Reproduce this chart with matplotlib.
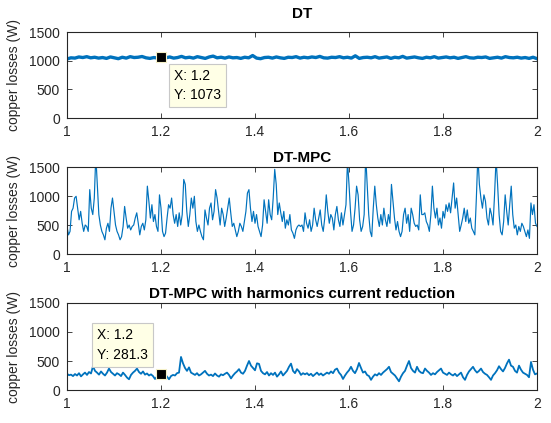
import numpy as np
import matplotlib
matplotlib.use("Agg")
import matplotlib.pyplot as plt

# ---- data (copper losses in W, time axis 1..2) ----
dt_losses = [
    1030, 1050, 1045, 1065, 1055, 1070, 1050, 1060, 1045, 1055,
    1040, 1065, 1050, 1035, 1060, 1045, 1070, 1055, 1060, 1073,
    1050, 1040, 1055, 1045, 1060, 1050, 1065, 1045, 1055, 1075,
    1050, 1060, 1045, 1070, 1055, 1040, 1065, 1080, 1050, 1060,
    1045, 1065, 1050, 1055, 1040, 1060, 1050, 1090, 1045, 1035,
    1055, 1060, 1045, 1065, 1050, 1040, 1060, 1055, 1070, 1045,
    1060, 1050, 1065, 1055, 1075, 1050, 1045, 1060, 1055, 1070,
    1050, 1060, 1045, 1085, 1040, 1055, 1060, 1050, 1070, 1045,
    1055, 1065, 1040, 1060, 1050, 1075, 1045, 1055, 1065, 1050,
    1040, 1060, 1050, 1070, 1045, 1055, 1065, 1050, 1060, 1040,
    1055, 1070, 1050, 1045, 1060, 1055, 1065, 1040, 1050, 1060,
    1045, 1070, 1055, 1050, 1060, 1045, 1055, 1040, 1060, 1035,
]

mpc_losses = [
    475, 330, 390, 735, 790, 965, 995, 790, 590, 735,
    530, 390, 500, 475, 390, 1110, 790, 680, 965, 1700,
    1200, 680, 500, 390, 330, 245, 445, 530, 390, 790,
    965, 735, 500, 390, 330, 245, 300, 475, 820, 620,
    445, 500, 415, 475, 500, 620, 710, 530, 330, 475,
    530, 415, 590, 1170, 910, 620, 850, 560, 680, 475,
    390, 1020, 790, 390, 300, 360, 620, 850, 790, 965,
    680, 530, 680, 475, 710, 500,
    680, 1285, 1200, 735, 475, 680, 965, 790, 995, 560,
    390, 500, 390, 300, 245, 760, 620, 500, 790, 880,
    590, 735, 1110, 965, 735, 500, 790, 680, 475, 620,
    790, 965, 710, 475, 530, 415, 300, 390, 530, 475,
    390, 560, 735, 1050, 1110, 790, 560, 735, 530, 680,
    475, 390, 300, 500, 935, 735, 530, 935, 680, 590,
    965, 1460, 1200, 680, 880, 710, 560, 735, 445, 590,
    500, 680, 415, 360, 270, 415, 475, 500, 475,
    500, 390, 710, 530, 445, 590, 390, 500, 790, 590,
    475, 620, 760, 500, 390, 620, 1020, 735, 530, 680,
    620, 415, 680, 820, 590, 475, 710, 500, 680, 850,
    1600, 1200, 735, 390, 500, 790, 1170, 1020, 590, 390,
    475, 680, 1700, 1200, 680, 390, 300, 790, 1170, 850,
    620, 475, 680, 500, 790, 590, 475, 680, 530, 1200,
    910, 620, 415, 560, 390, 300, 390, 680, 790, 530,
    680, 390, 790, 680, 530, 475, 500, 415, 1020, 680,
    680, 710, 560, 500, 390, 680, 1170, 790, 620, 790,
    500, 620, 445, 735, 620, 850, 735, 880, 710, 965,
    1225, 790, 965, 680, 390, 500, 620, 790, 560, 760,
    530, 620, 445, 390, 330, 965, 1700, 1200, 965, 790,
    1020, 910, 620, 500, 790, 680, 500, 1020, 1650, 1200,
    680, 390, 330, 560, 1020, 735, 500, 850, 1170, 680,
    445, 500, 330, 475, 390, 530, 475, 390, 300, 415,
    270, 880, 680, 850, 530, 475,
]

hcr_losses = [
    280, 255, 265, 240, 275, 250, 290, 235, 270, 300,
    260, 310, 285, 410, 330, 300, 265, 320, 280, 250,
    300, 370, 310, 280, 250, 290, 270, 240, 300, 260,
    215, 185, 260, 300, 330, 370, 310, 280, 320, 265,
    285, 250, 270, 240, 190, 230, 260, 281, 250, 270,
    230, 185, 240, 260, 250, 290, 300, 570, 460, 380,
    330, 390, 300, 280, 260, 290, 250, 270, 300, 330,
    280, 250, 265, 240, 285, 250, 230, 270, 255, 280,
    300, 260, 200, 250, 290, 320, 360, 300, 280, 330,
    420, 500, 420, 380, 340, 460, 450, 330, 290, 270,
    310, 250, 290, 260, 300, 230, 270, 320, 250, 290,
    330, 400, 455, 330, 290, 360, 320, 260, 290, 270,
    290, 255, 280, 240, 270, 300, 260, 285, 250, 275,
    300, 280, 320, 290, 350, 370, 300, 260, 190, 250,
    300, 340, 400, 330, 290, 360, 466, 380, 300, 320,
    260, 240, 175, 230, 270, 250, 290, 260, 300, 330,
    360, 400, 310, 280, 250, 200, 150, 230, 290, 330,
    420, 500, 380, 330, 300, 400, 330, 300, 290, 370,
    330, 300, 260, 290, 270, 310, 340, 370, 300, 280,
    260, 300, 270, 250, 280, 240, 270, 300, 220, 175,
    260, 320, 360, 400, 340, 300, 330, 370, 310, 280,
    260, 220, 175, 250, 290, 340, 410, 360, 320, 380,
    460, 523, 420, 400, 330, 300, 420, 350, 300, 280,
    260, 220, 483, 350, 270, 285,
]

titles = ["DT", "DT-MPC", "DT-MPC with harmonics current reduction"]
series = [dt_losses, mpc_losses, hcr_losses]
tips = [(1.2, 1073), None, (1.2, 281.3)]
x_ticks = [1, 1.2, 1.4, 1.6, 1.8, 2]
x_labels = ["1", "1.2", "1.4", "1.6", "1.8", "2"]
y_ticks = [0, 500, 1000, 1500]

LINE = "#0072BD"
DARK = "#262626"

plt.rcParams["font.family"] = ["Liberation Sans", "DejaVu Sans"]
plt.rcParams["font.size"] = 10

fig = plt.figure(figsize=(5.51, 4.23), dpi=100)

# axes boxes in figure fractions (left, bottom, width, height)
boxes = [
    (0.1216, 0.7210, 0.8530, 0.2033),
    (0.1216, 0.3995, 0.8530, 0.2057),
    (0.1216, 0.0780, 0.8530, 0.2057),
]
title_pads = [10, 3.5, 3.5]
line_widths = [2.4, 0.85, 1.3]

for i in range(3):
    ax = fig.add_axes(boxes[i])
    y = np.array(series[i], dtype=float)
    x = np.linspace(1, 2, len(y))
    ax.plot(x, y, color=LINE, lw=line_widths[i])
    ax.set_xlim(1, 2)
    ax.set_ylim(0, 1500)
    ax.set_xticks(x_ticks)
    ax.set_xticklabels(x_labels)
    ax.set_yticks(y_ticks)
    ax.tick_params(direction="in", length=3.6, width=0.6, colors=DARK,
                   top=True, right=True, labelsize=10, pad=5)
    for s in ax.spines.values():
        s.set_color(DARK)
        s.set_linewidth(0.8)
    ax.set_title(titles[i], fontsize=11, fontweight="bold", color="black",
                 pad=title_pads[i])
    ax.set_ylabel("copper losses (W)", fontsize=10, color=DARK)
    ax.yaxis.set_label_coords(-0.098, 0.5)

    if tips[i] is not None:
        tx, ty = tips[i]
        ax.plot([tx], [ty], "s", color="black", ms=7, mec="#F5F0C8",
                mew=0.8, zorder=5)
        label = f"X: {tx:g}\nY: {ty:g}"
        if i == 0:
            off, ha, va = (13, -12), "left", "top"
        else:
            off, ha, va = (-13, 12), "right", "bottom"
        ax.annotate(label, xy=(tx, ty), xytext=off, textcoords="offset pixels",
                    ha=ha, va=va, multialignment="left", fontsize=10,
                    color="black", linespacing=1.5,
                    bbox=dict(boxstyle="square,pad=0.35", fc="#FFFFE6",
                              ec="#C8C8C8", lw=0.8),
                    zorder=6)

fig.savefig("out.png", dpi=100)
